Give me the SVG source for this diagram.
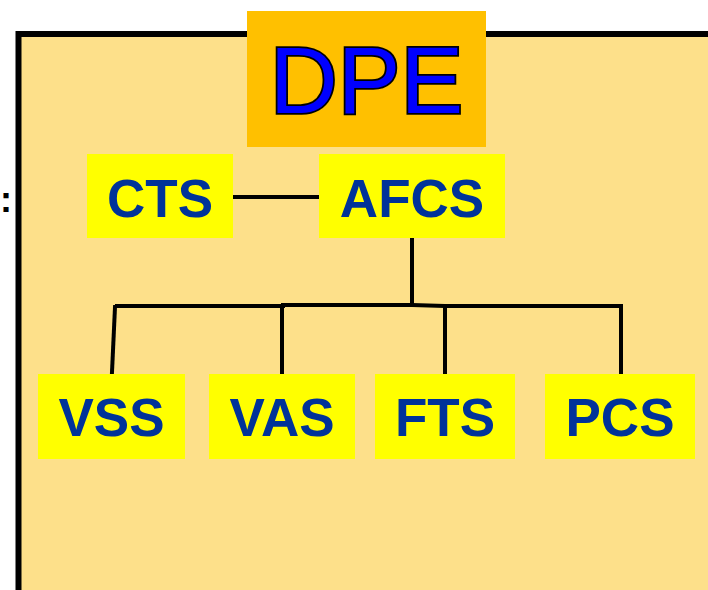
<svg xmlns="http://www.w3.org/2000/svg" width="708" height="590" viewBox="0 0 708 590">
<style>
.box{fill:#FFFF00}
.lbl{font-family:"Liberation Sans",Arial,sans-serif;font-weight:bold;font-size:53px;fill:#003399;text-anchor:middle}
.conn{stroke:#000;stroke-width:4;fill:none;stroke-linecap:square}
</style>
<rect x="0" y="0" width="708" height="590" fill="#FFFFFF"/>
<g id="frame">
<rect x="18.5" y="34" width="720" height="600" fill="#FDE08A" stroke="#000" stroke-width="6"/>
</g>
<text x="0" y="212" font-family="Liberation Sans,Arial,sans-serif" font-weight="bold" font-size="36" fill="#000">:</text>
<g id="connectors">
<line class="conn" x1="235" y1="197" x2="319" y2="197"/>
<line class="conn" x1="412" y1="240" x2="412" y2="305"/>
<polyline class="conn" points="117,306 283,306 283,305 412,305 445,306 621,306"/>
<line class="conn" x1="115" y1="307" x2="112" y2="372"/>
<line class="conn" x1="282" y1="307" x2="282" y2="372"/>
<line class="conn" x1="445" y1="307" x2="445" y2="372"/>
<line class="conn" x1="621" y1="307" x2="621" y2="372"/>
</g>
<g id="DPE">
<rect x="247" y="11" width="239" height="136" fill="#FFC000"/>
<text x="366.5" y="113" font-family="Liberation Sans,Arial,sans-serif" font-size="94" fill="#0000FF" stroke="#000" stroke-width="3.5" text-anchor="middle" paint-order="stroke">DPE</text>
</g>
<g id="CTS">
<rect class="box" x="87" y="154" width="146" height="84"/>
<text class="lbl" x="160" y="217">CTS</text>
</g>
<g id="AFCS">
<rect class="box" x="319" y="154" width="186" height="84"/>
<text class="lbl" x="412" y="217">AFCS</text>
</g>
<g id="VSS">
<rect class="box" x="38" y="374" width="147" height="85"/>
<text class="lbl" x="111.5" y="436">VSS</text>
</g>
<g id="VAS">
<rect class="box" x="209" y="374" width="146" height="85"/>
<text class="lbl" x="282" y="436">VAS</text>
</g>
<g id="FTS">
<rect class="box" x="375" y="374" width="140" height="85"/>
<text class="lbl" x="445" y="436">FTS</text>
</g>
<g id="PCS">
<rect class="box" x="545" y="374" width="150" height="85"/>
<text class="lbl" x="620" y="436">PCS</text>
</g>
</svg>
